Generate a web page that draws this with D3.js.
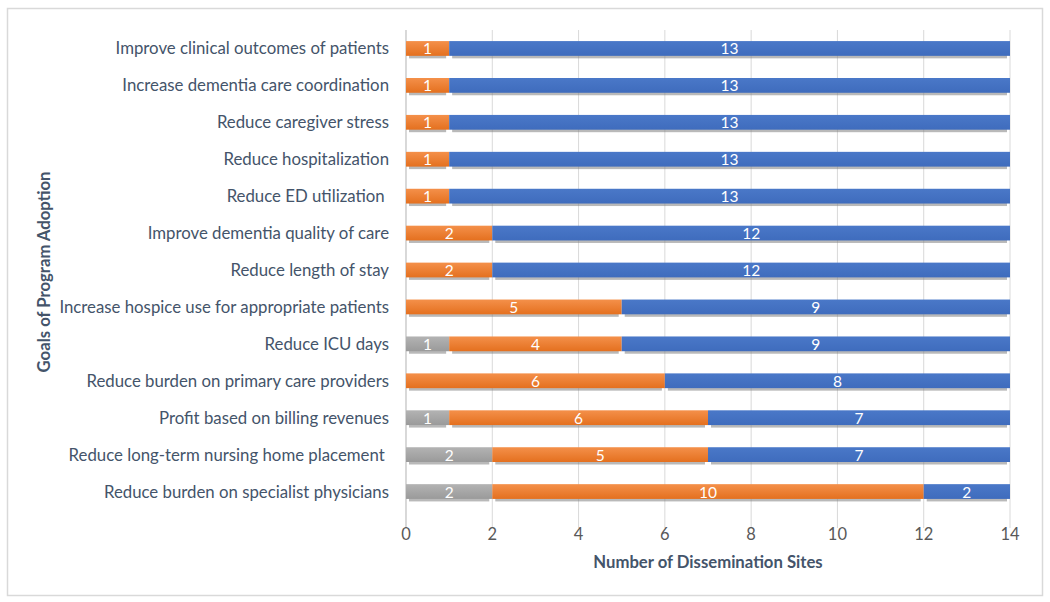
<!DOCTYPE html>
<html><head><meta charset="utf-8">
<script src="https://cdn.jsdelivr.net/npm/d3@7"></script>
<style>body{margin:0;background:#fff;} svg{display:block;font-family:Lato, "Open Sans", sans-serif;}</style>
</head><body><svg id="c" width="1050" height="602"></svg>
<script>
const categories = [
  "Improve clinical outcomes of patients",
  "Increase dementia care coordination",
  "Reduce caregiver stress",
  "Reduce hospitalization",
  "Reduce ED utilization ",
  "Improve dementia quality of care",
  "Reduce length of stay",
  "Increase hospice use for appropriate patients",
  "Reduce ICU days",
  "Reduce burden on primary care providers",
  "Profit based on billing revenues",
  "Reduce long-term nursing home placement ",
  "Reduce burden on specialist physicians"
];
const grayValues   = [0,0,0,0,0,0,0,0,1,0,1,2,2];
const orangeValues = [1,1,1,1,1,2,2,5,4,6,6,5,10];
const blueValues   = [13,13,13,13,13,12,12,9,9,8,7,7,2];
const seriesKeys = ["gray","orange","blue"];
const xTicks = [0,2,4,6,8,10,12,14];

const svg = d3.select("#c");
svg.append("rect").attr("x",7.5).attr("y",8.5).attr("width",1035).attr("height",587)
  .attr("fill","#fff").attr("stroke","#d9d9d9").attr("stroke-width",1.5);

const m = {left:406, right:1010, top:30, bottom:528};
const x = d3.scaleLinear().domain([0,14]).range([m.left,m.right]);
const y = d3.scaleBand().domain(categories).range([30,510]).paddingInner(0.6).paddingOuter(0.3);

// gridlines
svg.append("g").selectAll("line").data(xTicks.slice(1)).join("line")
  .attr("x1",d=>x(d)).attr("x2",d=>x(d)).attr("y1",m.top).attr("y2",m.bottom)
  .attr("stroke","#d9d9d9").attr("stroke-width",1);
svg.append("line").attr("x1",x(0)).attr("x2",x(0)).attr("y1",m.top).attr("y2",m.bottom)
  .attr("stroke","#bfbfbf").attr("stroke-width",1.2);

// gradients
const defs = svg.append("defs");
const grad = {gray:["#b3b3b3","#9a9a9a"], orange:["#F4904A","#E4701F"], blue:["#4a78c8","#3f6cbd"]};
seriesKeys.forEach(k=>{
  const g = defs.append("linearGradient").attr("id","g-"+k).attr("x1",0).attr("x2",0).attr("y1",0).attr("y2",1);
  g.append("stop").attr("offset","0%").attr("stop-color",grad[k][0]);
  g.append("stop").attr("offset","100%").attr("stop-color",grad[k][1]);
});

const rows = categories.map((c,i)=>({cat:c, gray:grayValues[i], orange:orangeValues[i], blue:blueValues[i]}));
const stacked = d3.stack().keys(seriesKeys)(rows);

const barG = svg.append("g");
stacked.forEach(s=>{
  const k = s.key;
  const g = barG.append("g");
  g.selectAll("rect.sh").data(s.filter(d=>d[1]-d[0]>0)).join("rect")
    .attr("x",d=>x(d[0])+3).attr("y",d=>y(d.data.cat)+2.5)
    .attr("width",d=>Math.max(0,x(d[1])-x(d[0])-6)).attr("height",y.bandwidth())
    .attr("fill","#808080").attr("opacity",0.55);
  g.selectAll("rect.b").data(s.filter(d=>d[1]-d[0]>0)).join("rect")
    .attr("x",d=>x(d[0])).attr("y",d=>y(d.data.cat))
    .attr("width",d=>x(d[1])-x(d[0])).attr("height",y.bandwidth())
    .attr("fill","url(#g-"+k+")");
});
stacked.forEach(s=>{
  barG.append("g").selectAll("text").data(s.filter(d=>d[1]-d[0]>0)).join("text")
    .attr("x",d=>(x(d[0])+x(d[1]))/2).attr("y",d=>y(d.data.cat)+y.bandwidth()/2+6)
    .attr("text-anchor","middle").attr("fill","#fff").attr("font-size",15.5)
    .text(d=>d[1]-d[0]);
});

// category labels
svg.append("g").selectAll("text").data(categories).join("text")
  .attr("x",389).attr("y",d=>y(d)+y.bandwidth()/2+6).attr("text-anchor","end")
  .attr("fill","#44546A").attr("font-size",16.8).attr("xml:space","preserve").text(d=>d);

// x tick labels
svg.append("g").selectAll("text").data(xTicks).join("text")
  .attr("x",d=>x(d)).attr("y",540).attr("text-anchor","middle")
  .attr("fill","#595959").attr("font-size",16.5).text(d=>d);

svg.append("text").attr("x",708).attr("y",568).attr("text-anchor","middle")
  .attr("fill","#44546A").attr("font-size",16.7).attr("font-weight","bold").text("Number of Dissemination Sites");
svg.append("text").attr("transform","translate(50,272) rotate(-90)").attr("text-anchor","middle")
  .attr("fill","#44546A").attr("font-size",16.7).attr("font-weight","bold").text("Goals of Program Adoption");
</script></body></html>
